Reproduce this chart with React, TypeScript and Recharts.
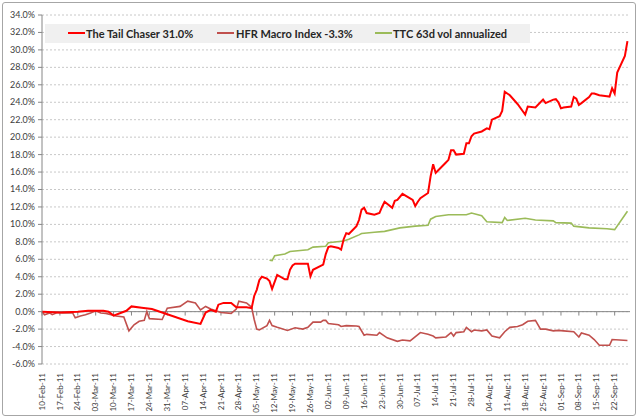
import React from 'react';
import { LineChart, Line, XAxis, YAxis, CartesianGrid, ReferenceLine, Legend } from 'recharts';

const xTickLabels = [
  '10-Feb-11', '17-Feb-11', '24-Feb-11', '03-Mar-11', '10-Mar-11', '17-Mar-11', '24-Mar-11', '31-Mar-11',
  '07-Apr-11', '14-Apr-11', '21-Apr-11', '28-Apr-11', '05-May-11', '12-May-11', '19-May-11', '26-May-11',
  '02-Jun-11', '09-Jun-11', '16-Jun-11', '23-Jun-11', '30-Jun-11', '07-Jul-11', '14-Jul-11', '21-Jul-11',
  '28-Jul-11', '04-Aug-11', '11-Aug-11', '18-Aug-11', '25-Aug-11', '01-Sep-11', '08-Sep-11', '15-Sep-11',
  '22-Sep-11',
];

const yTicks = [-6, -4, -2, 0, 2, 4, 6, 8, 10, 12, 14, 16, 18, 20, 22, 24, 26, 28, 30, 32, 34];

const seriesNames = ['The Tail Chaser 31.0%', 'HFR Macro Index -3.3%', 'TTC 63d vol annualized'];

const tailChaserDates = [
  '2011-02-10', '2011-02-17', '2011-02-24', '2011-02-28', '2011-03-06', '2011-03-08', '2011-03-10', '2011-03-15',
  '2011-03-17', '2011-03-21', '2011-03-25', '2011-03-29', '2011-04-08', '2011-04-13', '2011-04-15', '2011-04-17',
  '2011-04-19', '2011-04-20', '2011-04-22', '2011-04-25', '2011-04-27', '2011-05-01', '2011-05-03', '2011-05-04',
  '2011-05-05', '2011-05-06', '2011-05-07', '2011-05-09', '2011-05-10', '2011-05-11', '2011-05-13', '2011-05-16',
  '2011-05-17', '2011-05-18', '2011-05-19', '2011-05-20', '2011-05-25', '2011-05-26', '2011-05-27', '2011-05-31',
  '2011-06-01', '2011-06-02', '2011-06-03', '2011-06-06', '2011-06-07', '2011-06-08', '2011-06-09', '2011-06-10',
  '2011-06-13', '2011-06-14', '2011-06-15', '2011-06-16', '2011-06-17', '2011-06-20', '2011-06-22', '2011-06-23',
  '2011-06-24', '2011-06-27', '2011-06-28', '2011-06-29', '2011-07-01', '2011-07-05', '2011-07-06', '2011-07-07',
  '2011-07-08', '2011-07-11', '2011-07-12', '2011-07-13', '2011-07-14', '2011-07-15', '2011-07-18', '2011-07-19',
  '2011-07-20', '2011-07-21', '2011-07-22', '2011-07-25', '2011-07-26', '2011-07-27', '2011-07-28', '2011-07-29',
  '2011-08-01', '2011-08-03', '2011-08-04', '2011-08-05', '2011-08-08', '2011-08-09', '2011-08-10', '2011-08-11',
  '2011-08-12', '2011-08-15', '2011-08-17', '2011-08-18', '2011-08-19', '2011-08-22', '2011-08-25', '2011-08-26',
  '2011-08-29', '2011-08-30', '2011-08-31', '2011-09-01', '2011-09-02', '2011-09-05', '2011-09-06', '2011-09-07',
  '2011-09-08', '2011-09-09', '2011-09-12', '2011-09-13', '2011-09-14', '2011-09-16', '2011-09-19', '2011-09-20',
  '2011-09-21', '2011-09-22', '2011-09-23', '2011-09-26', '2011-09-27',
];
const tailChaserValues = [
  0.0, -0.1, 0.0, 0.1, 0.1, 0.0, -0.45, 0.1,
  0.6, 0.45, 0.3, -0.1, -1.1, -1.4, -0.1, 0.2,
  0.0, 0.8, 1.0, 1.0, 0.5, 0.5, 0.4, 1.8,
  2.5, 3.6, 4.0, 3.8, 3.5, 2.6, 4.2, 3.7,
  3.7, 4.8, 5.3, 5.5, 5.5, 4.05, 4.8, 5.4,
  6.6, 7.4, 7.5, 7.3, 7.1, 8.3, 9.0, 8.9,
  9.8, 10.5, 11.7, 11.9, 11.3, 11.1, 11.3, 12.0,
  12.6, 11.9, 12.7, 12.8, 13.5, 12.8, 12.1, 12.6,
  13.0, 13.6, 15.5, 16.9, 15.9, 16.2, 17.1, 17.4,
  18.5, 18.5, 18.0, 18.1, 19.3, 19.3, 20.1, 20.4,
  20.65, 21.0, 20.9, 22.0, 22.4, 23.0, 25.2, 25.0,
  24.8, 23.8, 23.0, 22.6, 23.5, 23.4, 24.3, 23.9,
  24.3, 24.35, 24.0, 23.3, 23.4, 23.5, 24.6, 24.4,
  23.7, 23.9, 24.6, 25.0, 25.0, 24.8, 24.7, 24.65,
  25.6, 25.0, 27.4, 29.3, 31.0,
];

const hfrDates = [
  '2011-02-10', '2011-02-11', '2011-02-13', '2011-02-14', '2011-02-16', '2011-02-18', '2011-02-22', '2011-02-23',
  '2011-02-25', '2011-02-27', '2011-03-01', '2011-03-03', '2011-03-05', '2011-03-07', '2011-03-09', '2011-03-11',
  '2011-03-14', '2011-03-16', '2011-03-18', '2011-03-20', '2011-03-22', '2011-03-23', '2011-03-24', '2011-03-29',
  '2011-03-31', '2011-04-05', '2011-04-08', '2011-04-11', '2011-04-13', '2011-04-15', '2011-04-17', '2011-04-21',
  '2011-04-25', '2011-04-27', '2011-04-28', '2011-05-01', '2011-05-03', '2011-05-04', '2011-05-05', '2011-05-06',
  '2011-05-09', '2011-05-10', '2011-05-11', '2011-05-13', '2011-05-17', '2011-05-20', '2011-05-23', '2011-05-25',
  '2011-05-27', '2011-05-30', '2011-05-31', '2011-06-01', '2011-06-02', '2011-06-06', '2011-06-07', '2011-06-09',
  '2011-06-13', '2011-06-14', '2011-06-16', '2011-06-17', '2011-06-21', '2011-06-22', '2011-06-25', '2011-06-29',
  '2011-07-01', '2011-07-04', '2011-07-08', '2011-07-11', '2011-07-13', '2011-07-14', '2011-07-18', '2011-07-20',
  '2011-07-21', '2011-07-22', '2011-07-25', '2011-07-26', '2011-07-28', '2011-07-29', '2011-08-01', '2011-08-03',
  '2011-08-05', '2011-08-08', '2011-08-10', '2011-08-12', '2011-08-15', '2011-08-17', '2011-08-19', '2011-08-22',
  '2011-08-24', '2011-08-26', '2011-08-29', '2011-08-31', '2011-09-02', '2011-09-06', '2011-09-08', '2011-09-09',
  '2011-09-12', '2011-09-14', '2011-09-16', '2011-09-20', '2011-09-21', '2011-09-27',
];
const hfrValues = [
  0.0, -0.35, -0.15, -0.35, -0.1, -0.15, -0.15, -0.7,
  -0.5, -0.35, -0.15, 0.1, -0.15, -0.2, -0.35, -0.5,
  -0.6, -2.2, -1.5, -1.1, -1.0, 0.0, -0.8, -0.9,
  0.4, 0.6, 1.2, 1.0, 0.2, 0.6, 0.3, -0.1,
  -0.2, 0.3, 1.2, 1.0, 0.5, -0.9, -2.0, -2.1,
  -1.6, -1.0, -1.6, -1.8, -2.15, -1.85, -2.0, -1.8,
  -1.2, -1.2, -1.0, -1.0, -1.35, -1.5, -1.7, -1.6,
  -1.65, -1.7, -2.7, -2.6, -2.7, -2.4, -3.0, -3.4,
  -3.25, -3.35, -2.4, -2.6, -2.8, -3.0, -2.9, -2.4,
  -2.8, -2.4, -2.3, -1.8, -2.3, -2.1, -2.2, -2.1,
  -2.8, -3.0, -2.3, -1.8, -1.7, -1.5, -1.1, -1.0,
  -2.0, -2.0, -2.2, -2.15, -2.2, -2.3, -2.9, -2.45,
  -2.7, -3.2, -3.85, -3.85, -3.2, -3.3,
];

const volDates = [
  '2011-05-10', '2011-05-11', '2011-05-12', '2011-05-16', '2011-05-18', '2011-05-25', '2011-05-27', '2011-06-01',
  '2011-06-02', '2011-06-08', '2011-06-10', '2011-06-14', '2011-06-15', '2011-06-20', '2011-06-24', '2011-06-30',
  '2011-07-06', '2011-07-11', '2011-07-12', '2011-07-14', '2011-07-19', '2011-07-26', '2011-07-28', '2011-08-01',
  '2011-08-03', '2011-08-09', '2011-08-10', '2011-08-11', '2011-08-18', '2011-08-22', '2011-08-29', '2011-08-30',
  '2011-09-05', '2011-09-06', '2011-09-12', '2011-09-19', '2011-09-22', '2011-09-27',
];
const volValues = [
  5.9, 5.85, 6.4, 6.6, 6.9, 7.1, 7.4, 7.5,
  7.9, 8.1, 8.3, 8.8, 8.95, 9.1, 9.2, 9.6,
  9.8, 9.9, 10.6, 10.9, 11.1, 11.1, 11.3, 11.0,
  10.3, 10.2, 10.8, 10.45, 10.7, 10.5, 10.4, 10.2,
  10.15, 9.8, 9.6, 9.5, 9.4, 11.5,
];

const MONTHS: Record<string, number> = {
  Jan: 0, Feb: 1, Mar: 2, Apr: 3, May: 4, Jun: 5, Jul: 6, Aug: 7, Sep: 8, Oct: 9, Nov: 10, Dec: 11,
};
const DAY_MS = 86400000;
const BASE = Date.UTC(2011, 1, 10);
const isoToDay = (s: string) => {
  const [y, m, d] = s.split('-').map(Number);
  return (Date.UTC(y, m - 1, d) - BASE) / DAY_MS;
};
const labelToDay = (s: string) => {
  const [d, mon, yy] = s.split('-');
  return (Date.UTC(2000 + Number(yy), MONTHS[mon], Number(d)) - BASE) / DAY_MS;
};
const build = (dates: string[], values: number[]) => dates.map((d, i) => ({ day: isoToDay(d), v: values[i] }));

const tailChaserData = build(tailChaserDates, tailChaserValues);
const hfrData = build(hfrDates, hfrValues);
const volData = build(volDates, volValues);
const xTickDays = xTickLabels.map(labelToDay);

const FONT = 'Lato, "Open Sans", sans-serif';
const TEXT = '#404040';
const AXIS = '#868686';
const COLORS = ['#ff0000', '#c0504d', '#9bbb59'];

const XTick = (props: any) => {
  const { x, y, payload } = props;
  const i = xTickDays.indexOf(payload.value);
  const ty = y + 1;
  return (
    <text
      x={x}
      y={ty}
      transform={`rotate(-90 ${x} ${ty})`}
      textAnchor="end"
      dy="0.33em"
      fontSize={8}
      fill={TEXT}
      fontFamily={FONT}
    >
      {i >= 0 ? xTickLabels[i] : ''}
    </text>
  );
};

const YTick = (props: any) => {
  const { x, y, payload } = props;
  return (
    <text x={x - 1} y={y} dy="0.33em" textAnchor="end" fontSize={9} fill={TEXT} fontFamily={FONT}>
      {`${Number(payload.value).toFixed(1)}%`}
    </text>
  );
};

const legendOffsets = [{ line: 23, text: 41 }, { line: 172, text: 191 }, { line: 330, text: 348 }];

const LegendBox = () => (
  <div style={{ position: 'relative', width: 485, height: 19, background: '#f0f0f0' }}>
    {seriesNames.map((name, i) => (
      <React.Fragment key={name}>
        <div
          style={{
            position: 'absolute', left: legendOffsets[i].line, top: 8, width: 17, height: 2, background: COLORS[i],
          }}
        />
        <div
          style={{
            position: 'absolute', left: legendOffsets[i].text, top: 2, fontSize: 11, fontWeight: 700,
            fontFamily: FONT, color: '#262626', whiteSpace: 'nowrap', lineHeight: '15px',
          }}
        >
          {name}
        </div>
      </React.Fragment>
    ))}
  </div>
);

export default function App() {
  return (
    <div style={{ position: 'absolute', left: 0, top: 0, width: 640, height: 420, background: '#fff' }}>
      <div
        style={{
          position: 'absolute', left: 2, top: 2, width: 634, height: 414, border: '1px solid #a6a6a6',
          borderRadius: 3, boxSizing: 'border-box',
        }}
      />
      <LineChart width={640} height={420} margin={{ top: 15, right: 10, bottom: 6, left: 2 }}>
        <CartesianGrid vertical={false} stroke="#c8c8c8" strokeDasharray="2 2" />
        <XAxis
          type="number"
          dataKey="day"
          domain={[0, 230]}
          ticks={xTickDays}
          interval={0}
          tick={<XTick />}
          axisLine={false}
          tickLine={false}
          height={50}
          allowDuplicatedCategory={false}
        />
        <YAxis
          type="number"
          domain={[-6, 34]}
          ticks={yTicks}
          interval={0}
          width={40}
          tick={<YTick />}
          axisLine={{ stroke: AXIS }}
          tickLine={{ stroke: AXIS }}
          tickSize={4}
        />
        <ReferenceLine y={0} stroke={AXIS} strokeWidth={1} />
        {xTickDays.map((d) => (
          <ReferenceLine key={d} segment={[{ x: d, y: 0 }, { x: d, y: -0.45 }]} stroke={AXIS} />
        ))}
        <Legend
          layout="vertical"
          align="center"
          verticalAlign="middle"
          content={<LegendBox />}
          wrapperStyle={{ position: 'absolute', left: 45, top: 24, width: 485, height: 19 }}
        />
        <Line
          data={volData}
          dataKey="v"
          name={seriesNames[2]}
          stroke={COLORS[2]}
          strokeWidth={1.6}
          dot={false}
          type="linear"
          isAnimationActive={false}
        />
        <Line
          data={hfrData}
          dataKey="v"
          name={seriesNames[1]}
          stroke={COLORS[1]}
          strokeWidth={1.6}
          dot={false}
          type="linear"
          isAnimationActive={false}
        />
        <Line
          data={tailChaserData}
          dataKey="v"
          name={seriesNames[0]}
          stroke={COLORS[0]}
          strokeWidth={2}
          dot={false}
          type="linear"
          isAnimationActive={false}
        />
      </LineChart>
    </div>
  );
}
